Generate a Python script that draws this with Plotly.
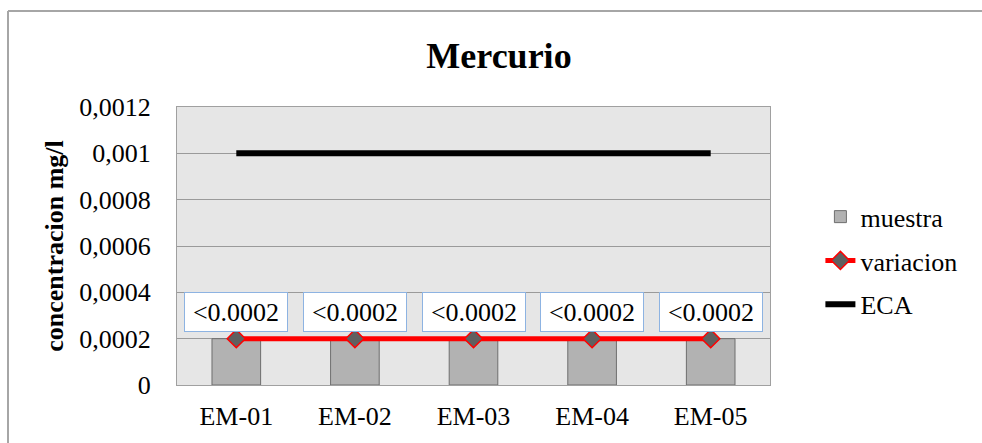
import plotly.graph_objects as go

categories = ["EM-01", "EM-02", "EM-03", "EM-04", "EM-05"]
muestra = [0.0002, 0.0002, 0.0002, 0.0002, 0.0002]
variacion = [0.0002, 0.0002, 0.0002, 0.0002, 0.0002]
eca = [0.001, 0.001, 0.001, 0.001, 0.001]
data_labels = ["<0.0002", "<0.0002", "<0.0002", "<0.0002", "<0.0002"]
y_tickvals = [0, 0.0002, 0.0004, 0.0006, 0.0008, 0.001, 0.0012]
y_ticktext = ["0", "0,0002", "0,0004", "0,0006", "0,0008", "0,001", "0,0012"]

FONT = "Liberation Serif"

fig = go.Figure()
fig.add_trace(go.Bar(
    x=categories, y=muestra, name="muestra", width=0.41,
    marker=dict(color="#b2b2b2", line=dict(color="#6e6e6e", width=1)),
    legendgroup="a",
))
fig.add_trace(go.Scatter(
    x=categories, y=variacion, name="variacion", mode="lines+markers",
    line=dict(color="#ff0000", width=5),
    marker=dict(symbol="diamond", size=14, color="#606060", line=dict(color="#ff0000", width=1.5)),
    legendgroup="b",
))
fig.add_trace(go.Scatter(
    x=categories, y=eca, name="ECA", mode="lines",
    line=dict(color="#000000", width=6),
    legendgroup="c",
))

for c, v, t in zip(categories, variacion, data_labels):
    fig.add_annotation(
        x=c, y=v, text=t, showarrow=False, yshift=27,
        font=dict(family=FONT, size=26, color="#000000"),
        bgcolor="#ffffff", bordercolor="#8db3e2", borderwidth=1,
        width=100, height=36, borderpad=1,
    )

# outer chart frame
fx = (8 - 177) / 593
fy = 1 + (107 - 11) / 278
fig.add_shape(type="line", xref="paper", yref="paper",
              x0=fx, x1=fx, y0=-0.3, y1=fy,
              line=dict(color="#a6a6a6", width=2))
fig.add_shape(type="line", xref="paper", yref="paper",
              x0=fx, x1=(990 - 177) / 593, y0=fy, y1=fy,
              line=dict(color="#a6a6a6", width=2))

fig.update_layout(
    width=982, height=443,
    margin=dict(l=177, r=212, t=107, b=58),
    paper_bgcolor="#ffffff", plot_bgcolor="#e6e6e6",
    font=dict(family=FONT, size=26, color="#000000"),
    title=dict(text="<b>Mercurio</b>", x=499 / 982, xanchor="center",
               y=1 - 55 / 443, yanchor="middle", xref="container", yref="container",
               font=dict(family=FONT, size=36, color="#000000")),
    showlegend=True,
    legend=dict(x=1.085, xanchor="left", y=0.447, yanchor="middle",
                font=dict(family=FONT, size=26), tracegroupgap=7,
                bgcolor="rgba(0,0,0,0)", itemwidth=30),
    bargap=0.59,
)
fig.update_xaxes(
    showgrid=False, showline=True, linecolor="#a0a0a0", linewidth=1, mirror=True,
    tickfont=dict(family=FONT, size=26), ticks="", ticklabelstandoff=8,
)
fig.update_yaxes(
    range=[0, 0.0012], tickvals=y_tickvals, ticktext=y_ticktext,
    showgrid=True, gridcolor="#9a9a9a", gridwidth=1,
    showline=True, linecolor="#a0a0a0", linewidth=1, mirror=True,
    zeroline=False, ticks="", ticklabelstandoff=20,
    tickfont=dict(family=FONT, size=26),
    title=dict(text="<b>concentracion mg/l</b>", font=dict(family=FONT, size=26), standoff=8),
)

fig.write_html("out.html")
